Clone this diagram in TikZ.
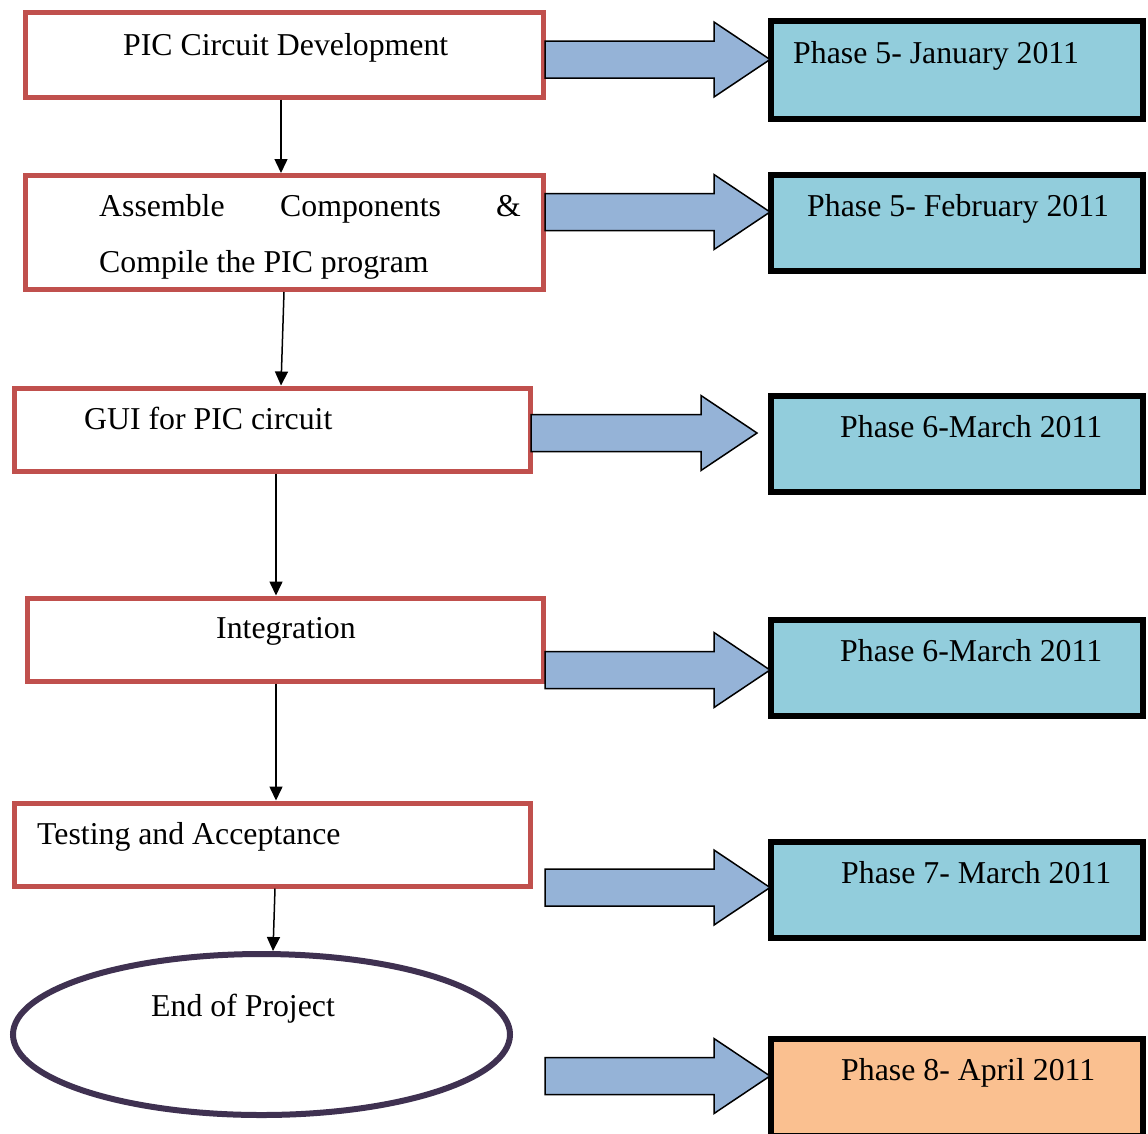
\documentclass[tikz,border=0pt]{standalone}
\usepackage{fontspec}
\setmainfont{Liberation Serif}
\usetikzlibrary{arrows.meta,shapes.geometric}
\definecolor{redb}{HTML}{C0504D}
\definecolor{cyanf}{HTML}{92CDDC}
\definecolor{arrf}{HTML}{95B3D7}
\definecolor{orf}{HTML}{FAC090}
\definecolor{purb}{HTML}{3F3151}
\newcommand\blockarr[3]{%
  \draw[barrow] (#1,#3-18.5) -- (#2-56,#3-18.5) -- (#2-56,#3-37.5) -- (#2,#3)
    -- (#2-56,#3+37.5) -- (#2-56,#3+18.5) -- (#1,#3+18.5) -- cycle;}
\begin{document}
\begin{tikzpicture}[x=1pt,y=-1pt,
  redbox/.style={draw=redb, line width=5pt, fill=white, rectangle, inner sep=0pt},
  phbox/.style={draw=black, line width=6pt, fill=cyanf, rectangle, inner sep=0pt, minimum width=372pt},
  barrow/.style={draw=black, line width=1.5pt, fill=arrf, line join=miter},
  conn/.style={draw=black, line width=1.5pt, -{Triangle[length=14pt,width=13pt]}},
  txt/.style={inner sep=0pt, anchor=base west, font=\fontsize{31.8}{38}\selectfont}]
\useasboundingbox (0,0) rectangle (1148,1133);
\clip (0,0) rectangle (1148,1133);
\fill[white] (0,0) rectangle (1148,1133);

% left flow boxes
\node[redbox, minimum width=518pt, minimum height=84.5pt] (b1) at (284,54.75) {};
\node[redbox, minimum width=518pt, minimum height=114pt] (b2) at (284,232.5) {};
\node[redbox, minimum width=516pt, minimum height=83pt] (b3) at (272,429.5) {};
\node[redbox, minimum width=516pt, minimum height=83pt] (b4) at (285,639.5) {};
\node[redbox, minimum width=516pt, minimum height=83pt] (b5) at (272,844.5) {};
\node[ellipse, draw=purb, line width=6pt, fill=white, inner sep=0pt,
      minimum width=497pt, minimum height=161pt] (el) at (261.5,1034.5) {};

% phase boxes
\node[phbox, minimum height=98pt] (r1) at (957,70) {};
\node[phbox, minimum height=95.5pt] (r2) at (957,222.75) {};
\node[phbox, minimum height=96pt] (r3) at (957,444) {};
\node[phbox, minimum height=96pt] (r4) at (957,668) {};
\node[phbox, minimum height=96pt] (r5) at (957,890) {};
\node[phbox, fill=orf, minimum height=97.5pt] (r6) at (957,1087.25) {};

% block arrows
\blockarr{545}{770}{59.5}
\blockarr{545}{770}{212}
\blockarr{531}{757}{433}
\blockarr{545}{770}{670}
\blockarr{545}{770}{887.5}
\blockarr{545}{770}{1076}

% texts
\node[txt] (t1) at (123,55) {PIC Circuit Development};
\node[txt] (t2a) at (99,216) {Assemble};
\node[txt] (t2b) at (280,216) {Components};
\node[txt, anchor=base east] (t2c) at (521,216) {\&};
\node[txt] (t2d) at (99,272) {Compile the PIC program};
\node[txt] (t3) at (84,429) {GUI for PIC circuit};
\node[txt] (t4) at (216,638) {Integration};
\node[txt] (t5) at (37,844) {Testing and Acceptance};
\node[txt] (t6) at (151,1016) {End of Project};
\node[txt] (p1) at (793,63) {Phase 5- January 2011};
\node[txt] (p2) at (807,216) {Phase 5- February 2011};
\node[txt] (p3) at (840,437) {Phase 6-March 2011};
\node[txt] (p4) at (840,661) {Phase 6-March 2011};
\node[txt] (p5) at (841,883) {Phase 7- March 2011};
\node[txt] (p6) at (841,1080) {Phase 8- April 2011};

% connectors
\coordinate (x281) at (281,0);
\coordinate (x284) at (284,0);
\coordinate (x276) at (276,0);
\coordinate (x275) at (275,0);
\coordinate (x273) at (273,0);
\draw[conn] (b1.south -| x281) -- (b2.north -| x281);
\draw[conn] (b2.south -| x284) -- (b3.north -| x281);
\draw[conn] (b3.south -| x276) -- (b4.north -| x276);
\draw[conn] (b4.south -| x276) -- (b5.north -| x276);
\draw[conn] (b5.south -| x275) -- (el.north -| x273);
\end{tikzpicture}
\end{document}
